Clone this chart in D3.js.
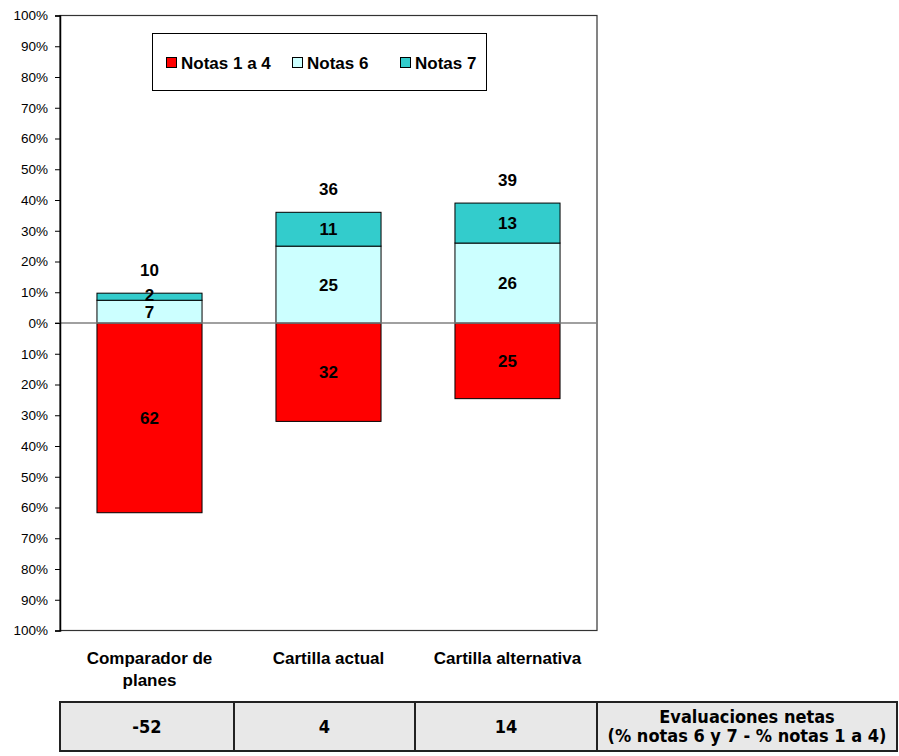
<!DOCTYPE html>
<html>
<head>
<meta charset="utf-8">
<script src="https://cdn.jsdelivr.net/npm/d3@7"></script>
<style>
  body { margin: 0; background: #fff; }
  svg { display: block; }
</style>
</head>
<body>
<svg id="chart" width="899" height="756"></svg>
<script>
// Categories and stacked series (percent of respondents)
const categories = [["Comparador de", "planes"], ["Cartilla actual"], ["Cartilla alternativa"]];
const notas1a4 = [61.7, 32, 24.6];   // drawn below zero
const notas6 = [7.4, 25, 26];
const notas7 = [2.3, 11, 13];
const netas = [-52, 4, 14];
const yTicks = [-100, -90, -80, -70, -60, -50, -40, -30, -20, -10, 0, 10, 20, 30, 40, 50, 60, 70, 80, 90, 100];
const seriesNames = ["Notas 1 a 4", "Notas 6", "Notas 7"];
const seriesColors = ["#ff0000", "#ccffff", "#33cccc"];
const tableTitle = ["Evaluaciones netas", "(% notas 6 y 7 - % notas 1 a 4)"];

const svg = d3.select("#chart");
const plot = { left: 60, right: 597, top: 15.5, bottom: 630.5 };
const sans = "'Liberation Sans', Arial, Helvetica, sans-serif";
const narrow = "'Liberation Sans Narrow', 'Arial Narrow', 'DejaVu Sans Condensed', sans-serif";
const labelSize = 17;

const x = d3.scaleBand()
  .domain(d3.range(categories.length))
  .range([plot.left, plot.right])
  .paddingInner(0.413)
  .paddingOuter(0.2065);

const y = d3.scaleLinear().domain([-100, 100]).range([plot.bottom, plot.top]);

// plot frame (top / right / bottom)
svg.append("rect")
  .attr("x", plot.left).attr("y", plot.top)
  .attr("width", plot.right - plot.left).attr("height", plot.bottom - plot.top)
  .attr("fill", "none").attr("stroke", "#333").attr("stroke-width", 1.2);

// bars
const rows = categories.map((c, i) => ({ i, n14: notas1a4[i], n6: notas6[i], n7: notas7[i] }));
const g = svg.append("g");
rows.forEach(d => {
  const segs = [
    { y0: -d.n14, y1: 0, v: d.n14, c: seriesColors[0], shift: 0 },
    { y0: 0, y1: d.n6, v: d.n6, c: seriesColors[1], shift: 0 },
    { y0: d.n6, y1: d.n6 + d.n7, v: d.n7, c: seriesColors[2], shift: d.n7 < 4 ? -2 : 0 }
  ];
  segs.forEach(s => {
    g.append("rect")
      .attr("x", x(d.i)).attr("width", x.bandwidth())
      .attr("y", y(s.y1)).attr("height", y(s.y0) - y(s.y1))
      .attr("fill", s.c).attr("stroke", "#000").attr("stroke-width", 1);
  });
  segs.forEach(s => {
    g.append("text")
      .attr("x", x(d.i) + x.bandwidth() / 2)
      .attr("y", (y(s.y0) + y(s.y1)) / 2 + s.shift)
      .attr("dy", "0.36em")
      .attr("text-anchor", "middle")
      .attr("font-family", sans).attr("font-weight", "bold").attr("font-size", labelSize)
      .text(d3.format(".0f")(s.v));
  });
  // total of positive notes above each bar
  const total = d.n6 + d.n7;
  g.append("text")
    .attr("x", x(d.i) + x.bandwidth() / 2)
    .attr("y", y(total) - 23)
    .attr("dy", "0.36em")
    .attr("text-anchor", "middle")
    .attr("font-family", sans).attr("font-weight", "bold").attr("font-size", labelSize)
    .text(d3.format(".0f")(total));
});

// zero line
svg.append("line")
  .attr("x1", plot.left - 5).attr("x2", plot.right)
  .attr("y1", y(0)).attr("y2", y(0))
  .attr("stroke", "#808080").attr("stroke-width", 1.3);

// y axis with absolute-value percent labels
const yAxis = d3.axisLeft(y)
  .tickValues(yTicks)
  .tickSize(5)
  .tickPadding(7)
  .tickFormat(v => Math.abs(v) + "%");
const ya = svg.append("g")
  .attr("transform", `translate(${plot.left},0)`)
  .call(yAxis);
ya.select(".domain").attr("stroke", "#000").attr("stroke-width", 1.5);
ya.selectAll(".tick line").attr("stroke", "#000");
ya.selectAll(".tick text")
  .attr("font-family", sans).attr("font-size", 13.5).attr("fill", "#000");

// category labels
categories.forEach((lines, i) => {
  const t = svg.append("text")
    .attr("x", x(i) + x.bandwidth() / 2)
    .attr("y", 664)
    .attr("text-anchor", "middle")
    .attr("font-family", sans).attr("font-weight", "bold").attr("font-size", labelSize);
  lines.forEach((ln, k) => {
    t.append("tspan").attr("x", x(i) + x.bandwidth() / 2).attr("dy", k === 0 ? 0 : 22).text(ln);
  });
});

// legend
const lg = svg.append("g");
lg.append("rect")
  .attr("x", 152.5).attr("y", 33.5).attr("width", 334).attr("height", 57)
  .attr("fill", "#fff").attr("stroke", "#000").attr("stroke-width", 1);
const legendX = [166, 292, 400];
seriesNames.forEach((name, k) => {
  lg.append("rect")
    .attr("x", legendX[k] + 0.5).attr("y", 57.5).attr("width", 10).attr("height", 10)
    .attr("fill", seriesColors[k]).attr("stroke", "#000").attr("stroke-width", 1);
  lg.append("text")
    .attr("x", legendX[k] + 15).attr("y", 62.5).attr("dy", "0.36em")
    .attr("font-family", sans).attr("font-weight", "bold").attr("font-size", labelSize)
    .text(name);
});

// net evaluation table
const colEdges = [60, 234, 415, 597, 897];
const tTop = 702, tBot = 751;
const tb = svg.append("g");
tb.append("rect")
  .attr("x", colEdges[0]).attr("y", tTop)
  .attr("width", colEdges[4] - colEdges[0]).attr("height", tBot - tTop)
  .attr("fill", "#e8e8e8").attr("stroke", "#222").attr("stroke-width", 2);
colEdges.slice(1, -1).forEach(cx => {
  tb.append("line").attr("x1", cx).attr("x2", cx).attr("y1", tTop).attr("y2", tBot)
    .attr("stroke", "#222").attr("stroke-width", 2);
});
netas.forEach((v, i) => {
  tb.append("text")
    .attr("x", (colEdges[i] + colEdges[i + 1]) / 2)
    .attr("y", (tTop + tBot) / 2).attr("dy", "0.36em")
    .attr("text-anchor", "middle")
    .attr("font-family", narrow).attr("font-weight", "bold").attr("font-size", 18)
    .text(v);
});
tableTitle.forEach((ln, k) => {
  tb.append("text")
    .attr("x", (colEdges[3] + colEdges[4]) / 2)
    .attr("y", 717 + k * 19).attr("dy", "0.36em")
    .attr("text-anchor", "middle")
    .attr("font-family", narrow).attr("font-weight", "bold").attr("font-size", 18)
    .text(ln);
});
</script>
</body>
</html>
